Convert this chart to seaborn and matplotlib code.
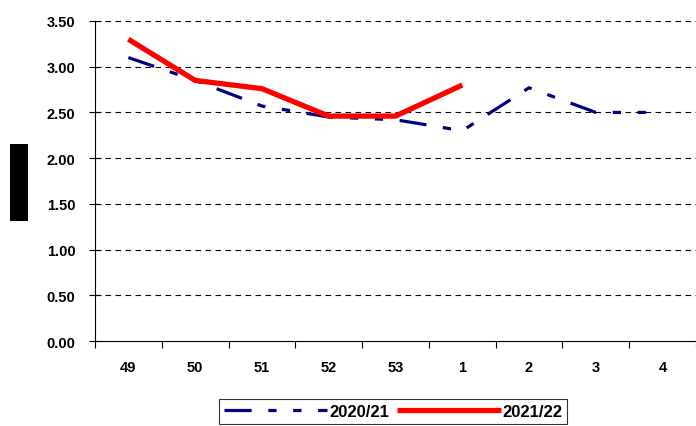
import numpy as np
import pandas as pd
import matplotlib
matplotlib.use("Agg")
import matplotlib.pyplot as plt
import seaborn as sns
from matplotlib.patches import Rectangle
from matplotlib.ticker import FixedLocator, NullFormatter

weeks = ["49", "50", "51", "52", "53", "1", "2", "3", "4"]
s2020 = [3.10, 2.85, 2.57, 2.45, 2.42, 2.30, 2.77, 2.50, 2.50]
s2021 = [3.30, 2.85, 2.76, 2.46, 2.46, 2.80]
yticks = [0.0, 0.5, 1.0, 1.5, 2.0, 2.5, 3.0, 3.5]

sns.set_theme(style="white")
plt.rcParams['font.family'] = ['Liberation Sans', 'DejaVu Sans']
plt.rcParams['text.color'] = 'black'
plt.rcParams['xtick.color'] = 'black'
plt.rcParams['ytick.color'] = 'black'
plt.rcParams['axes.labelcolor'] = 'black'

fig = plt.figure(figsize=(6.96, 4.27), dpi=100)
ax = fig.add_axes([0.1365, 0.199, 0.8635, 0.7495])

x = np.arange(len(weeks))
df1 = pd.DataFrame({"x": x, "y": s2020})
df2 = pd.DataFrame({"x": x[:len(s2021)], "y": s2021})

sns.lineplot(data=df1, x="x", y="y", ax=ax, color="#000080", linewidth=2.3,
             label="2020/21")
ax.lines[-1].set_dashes((8.5, 5.2, 2.6, 5.2, 2.6, 5.2))
sns.lineplot(data=df2, x="x", y="y", ax=ax, color="#ff0000", linewidth=3.8,
             label="2021/22", solid_capstyle="butt")

ax.set_xlim(-0.5, len(weeks) - 0.5)
ax.set_ylim(0, 3.5)
ax.set_yticks(yticks)
ax.set_yticklabels([f"{v:.2f}" for v in yticks], fontweight="bold", fontsize=10.5)
for yv in yticks[1:]:
    ax.axhline(yv, color="black", linestyle=(0, (5, 4)), linewidth=0.8, zorder=0)

ax.xaxis.set_major_locator(FixedLocator(np.arange(len(weeks) + 1) - 0.5))
ax.xaxis.set_major_formatter(NullFormatter())
ax.xaxis.set_minor_locator(FixedLocator(x))
ax.set_xticklabels(weeks, minor=True, fontweight="bold", fontsize=10.5)
ax.tick_params(axis="x", which="major", direction="out", length=5, width=0.8,
               colors="black", bottom=True)
ax.tick_params(axis="x", which="minor", length=0, pad=14)
ax.tick_params(axis="y", direction="inout", length=8, width=0.8, left=True,
               pad=10)
ax.set_xlabel("")
ax.set_ylabel("")
for side in ["top", "right"]:
    ax.spines[side].set_visible(False)
for side in ["left", "bottom"]:
    ax.spines[side].set_color("black")
    ax.spines[side].set_linewidth(0.8)

leg = ax.legend(loc="upper center", bbox_to_anchor=(0.565, 0.063),
                bbox_transform=fig.transFigure, ncol=2, frameon=True,
                fancybox=False, edgecolor="black", handlelength=6.2,
                columnspacing=0.5, handletextpad=0.1, borderpad=0.3,
                borderaxespad=0.0,
                prop={"weight": "bold", "size": 12})
leg.get_frame().set_linewidth(0.8)
for t in leg.get_texts():
    t.set_color("black")

fig.patches.append(Rectangle((10 / 696, 1 - 222 / 427), 18 / 696, 77 / 427,
                             transform=fig.transFigure, facecolor="black",
                             edgecolor="none"))

fig.savefig("out.png", dpi=100)
